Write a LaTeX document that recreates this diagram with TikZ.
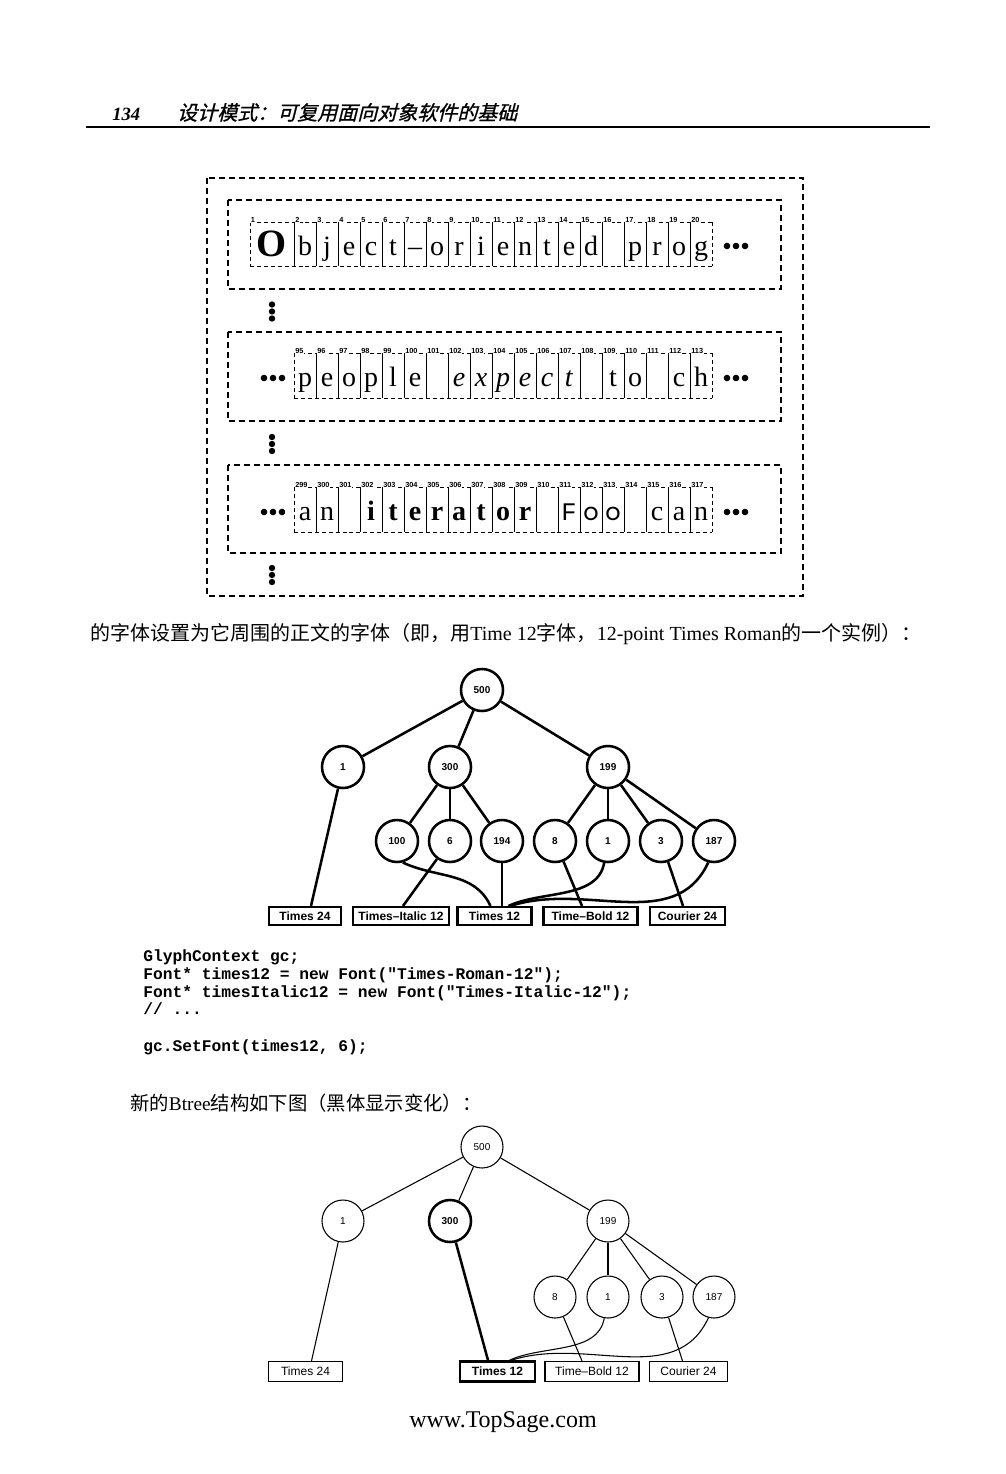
\documentclass[tikz,border=0pt]{standalone}
\usepackage{fontspec}
\setmainfont{Liberation Serif}
\setsansfont{Liberation Sans}
\setmonofont{Liberation Mono}
\newfontfamily\cjk{Noto Sans CJK SC}
\newfontfamily\cjkslant[FakeSlant=0.25,FakeBold=1]{Noto Sans CJK SC}
\newfontfamily\roundfont{Poppins}
\newfontfamily\courfont{Liberation Mono}
\usetikzlibrary{calc}
\newcommand\fsz[1]{\fontsize{#1}{#1}\selectfont}
\tikzset{
 dbox/.style={dash pattern=on 4.5pt off 3pt, line width=0.9pt},
 cellline/.style={dash pattern=on 3pt off 2.2pt, line width=0.7pt},
 sepline/.style={line width=0.7pt},
 numlabel/.style={font=\sffamily\bfseries\fsz{5.5}, inner sep=0.4pt, fill=white, anchor=base west},
 glyph/.style={font=\fsz{21}, inner sep=0, anchor=base},
 tnodeA/.style={circle, draw, line width=1.9pt, minimum size=31.5pt, inner sep=0, font=\sffamily\bfseries\fsz{7.5}},
 tboxA/.style={draw, line width=1.6pt, minimum height=13.5pt, inner sep=0, font=\sffamily\bfseries\fsz{9}},
 tedgeA/.style={line width=1.9pt},
 tnodeB/.style={circle, draw, line width=0.8pt, minimum size=31.5pt, inner sep=0, font=\sffamily\fsz{7.5}},
 tboxB/.style={draw, line width=0.9pt, minimum height=15pt, inner sep=0, font=\sffamily\fsz{9}},
 tedgeB/.style={line width=0.8pt},
 thickB/.style={line width=1.9pt},
 codeline/.style={anchor=base west, inner sep=0, font=\ttfamily\bfseries\fsz{12.2}},
}
\begin{document}
\begin{tikzpicture}[x=0.75pt,y=0.75pt]
\useasboundingbox (0,0) rectangle (1006,-1474);
% ---------- header ----------
\node[anchor=base west, inner sep=0, font=\bfseries\itshape\fsz{14}] (pnum) at (112,-120) {134};
\node[anchor=base west, inner sep=0, font=\cjkslant\fsz{15}] (ptitle) at (177,-120) {设计模式：可复用面向对象软件的基础};
\draw[line width=1.5pt] (86,-127) -- (930,-127);

% ---------- glyph figure ----------
\draw[dbox] (207,-178) rectangle (803,-596);
\draw[dbox] (228,-200) rectangle (781,-289);
\draw[dbox] (228,-332) rectangle (781,-421);
\draw[dbox] (228,-465) rectangle (781,-553);

% row 1
\draw[cellline] (250,-222) -- (712,-222);
\draw[cellline] (250,-266) -- (712,-266);
\draw[cellline] (250,-222) -- (250,-266);
\draw[cellline] (712,-222) -- (712,-266);
\foreach \k in {0,...,18} \draw[sepline] (294+22*\k,-222) -- (294+22*\k,-266);
\node[anchor=base, inner sep=0, font=\bfseries\fsz{29}] (r1O) at (272,-256) {O};
\node[numlabel] (r1n1) at (250,-222) {1};
\foreach \ch [count=\k from 0, evaluate=\k as \n using int(\k+2)] in {b,j,e,c,t,–,o,r,i,e,n,t,e,d,{},p,r,o,g} {
  \node[glyph] (r1c\k) at (305+22*\k,-255) {\ch};
  \node[numlabel] (r1n\n) at (294.5+22*\k,-222) {\n};
}
\foreach \x in {727,736,745} \fill (\x,-246) circle (3.3);

% row 2
\draw[cellline] (294,-353) -- (712,-353);
\draw[cellline] (294,-398) -- (712,-398);
\draw[cellline] (294,-353) -- (294,-398);
\draw[cellline] (712,-353) -- (712,-398);
\foreach \k in {1,...,18} \draw[sepline] (294+22*\k,-353) -- (294+22*\k,-398);
\foreach \ch [count=\k from 0, evaluate=\k as \n using int(\k+95)] in {p,e,o,p,l,e,{},\textit{e},\textit{x},\textit{p},\textit{e},\textit{c},\textit{t},{},t,o,{},c,h} {
  \node[glyph] (r2c\k) at (305+22*\k,-386.5) {\ch};
  \node[numlabel] (r2n\n) at (294.5+22*\k,-353) {\n};
}
\foreach \x in {264,273,282,727,736,745} \fill (\x,-378) circle (3.3);

% row 3
\draw[cellline] (294,-487) -- (712,-487);
\draw[cellline] (294,-532) -- (712,-532);
\draw[cellline] (294,-487) -- (294,-532);
\draw[cellline] (712,-487) -- (712,-532);
\foreach \k in {1,...,18} \draw[sepline] (294+22*\k,-487) -- (294+22*\k,-532);
\foreach \ch [count=\k from 0, evaluate=\k as \n using int(\k+299)] in {a,n,{},\textbf{i},\textbf{t},\textbf{e},\textbf{r},\textbf{a},\textbf{t},\textbf{o},\textbf{r},{},{\courfont\fsz{19}F},{\roundfont\fsz{18}o},{\roundfont\fsz{18}o},{},c,a,n} {
  \node[glyph] (r3c\k) at (305+22*\k,-520.5) {\ch};
  \node[numlabel] (r3n\n) at (294.5+22*\k,-487) {\n};
}
\foreach \x in {264,273,282,727,736,745} \fill (\x,-512) circle (3.3);

% vertical ellipses
\foreach \y in {304.5,311.5,318.5,437,444,451,568,575,582} \fill (272,-\y) circle (3.2);

% ---------- text line ----------
\node[anchor=base west, inner sep=0, font=\fsz{15}] (txt1) at (90,-640)
 {{\cjk 的字体设置为它周围的正文的字体（即，用}Time 12{\cjk 字体，}12-point Times Roman{\cjk 的一个实例）：}};

% ---------- tree 1 ----------
\node[tnodeA] (a500) at (482,-690) {500};
\node[tnodeA] (a1) at (343,-767) {1};
\node[tnodeA] (a300) at (450,-767) {300};
\node[tnodeA] (a199) at (608,-767) {199};
\node[tnodeA] (a100) at (397,-841) {100};
\node[tnodeA] (a6) at (450,-841) {6};
\node[tnodeA] (a194) at (502,-841) {194};
\node[tnodeA] (a8) at (555,-841) {8};
\node[tnodeA] (a1b) at (608,-841) {1};
\node[tnodeA] (a3) at (661,-841) {3};
\node[tnodeA] (a187) at (714,-841) {187};
\node[tboxA, minimum width=54pt] (aT24) at (305,-916) {Times 24};
\node[tboxA, minimum width=72pt] (aTI12) at (401,-916) {Times--Italic 12};
\node[tboxA, minimum width=55.5pt] (aT12) at (494.5,-916) {Times 12};
\node[tboxA, minimum width=70.5pt] (aTB12) at (590.5,-916) {Time--Bold 12};
\node[tboxA, minimum width=56.25pt] (aC24) at (687.5,-916) {Courier 24};
\draw[tedgeA] (a500) -- (a1);
\draw[tedgeA] (a500) -- (a300);
\draw[tedgeA] (a500) -- (a199);
\draw[tedgeA] (a300) -- (a100);
\draw[tedgeA] (a300) -- (a6);
\draw[tedgeA] (a300) -- (a194);
\draw[tedgeA] (a199) -- (a8);
\draw[tedgeA] (a199) -- (a1b);
\draw[tedgeA] (a199) -- (a3);
\draw[tedgeA] (a199) -- (a187);
\draw[tedgeA] (a1) -- ($(aT24.north)+(6,0)$);
\draw[tedgeA] (a6) -- ($(aTI12.north)+(2,0)$);
\draw[tedgeA] (a194) -- ($(aT12.north)+(7.5,0)$);
\draw[tedgeA] (a8) -- ($(aTB12.north)+(-8.5,0)$);
\draw[tedgeA] (a3) -- ($(aC24.north)+(-4.5,0)$);
\draw[tedgeA] (a100.-75) to[out=-25,in=115] ($(aT12.north)+(-4,0)$);
\draw[tedgeA] (a1b.-100) to[out=-100,in=25,looseness=0.9] ($(aT12.north)+(14,0)$);
\draw[tedgeA] (a187.-105) to[out=-115,in=18] ($(aT12.north)+(16,0)$);

% ---------- code ----------
\node[codeline] (code1) at (143,-961.5) {GlyphContext gc;};
\node[codeline] (code2) at (143,-979) {Font* times12 = new Font("Times-Roman-12");};
\node[codeline] (code3) at (143,-997) {Font* timesItalic12 = new Font("Times-Italic-12");};
\node[codeline] (code4) at (143,-1014.5) {// ...};
\node[codeline] (code5) at (143,-1051.5) {gc.SetFont(times12, 6);};

\node[anchor=base west, inner sep=0, font=\fsz{14.5}] (txt2) at (130,-1110)
 {{\cjk 新的}Btree{\cjk 结构如下图（黑体显示变化）：}};

% ---------- tree 2 ----------
\node[tnodeB] (b500) at (482,-1147) {500};
\node[tnodeB] (b1) at (343,-1221) {1};
\node[tnodeB, line width=1.9pt, font=\sffamily\bfseries\fsz{7.5}] (b300) at (450,-1221) {300};
\node[tnodeB] (b199) at (608,-1221) {199};
\node[tnodeB] (b8) at (555,-1297) {8};
\node[tnodeB] (b1b) at (608,-1297) {1};
\node[tnodeB] (b3) at (662,-1297) {3};
\node[tnodeB] (b187) at (714,-1297) {187};
\node[tboxB, minimum width=56pt] (bT24) at (305.5,-1371.5) {Times 24};
\node[tboxB, minimum width=56pt, line width=1.9pt, font=\sffamily\bfseries\fsz{9}] (bT12) at (497.5,-1371.5) {Times 12};
\node[tboxB, minimum width=70.5pt] (bTB12) at (592,-1371.5) {Time--Bold 12};
\node[tboxB, minimum width=58pt] (bC24) at (688.5,-1371.5) {Courier 24};
\draw[tedgeB] (b500) -- (b1);
\draw[tedgeB] (b500) -- (b300);
\draw[tedgeB] (b500) -- (b199);
\draw[tedgeB] (b199) -- (b8);
\draw[tedgeB] (b199) -- (b1b);
\draw[tedgeB] (b199) -- (b3);
\draw[tedgeB] (b199) -- (b187);
\draw[tedgeB] (b1) -- ($(bT24.north)+(6,0)$);
\draw[thickB] (b300) -- ($(bT12.north)+(-9.5,0)$);
\draw[tedgeB] (b8) -- ($(bTB12.north)+(-10,0)$);
\draw[tedgeB] (b3) -- ($(bC24.north)+(-6,0)$);
\draw[tedgeB] (b1b.-100) to[out=-100,in=25,looseness=0.9] ($(bT12.north)+(12,0)$);
\draw[tedgeB] (b187.-105) to[out=-115,in=18] ($(bT12.north)+(14,0)$);

% ---------- footer ----------
\node[anchor=base, inner sep=0, font=\fsz{18}] (footer) at (503,-1427) {www.TopSage.com};
\end{tikzpicture}
\end{document}
